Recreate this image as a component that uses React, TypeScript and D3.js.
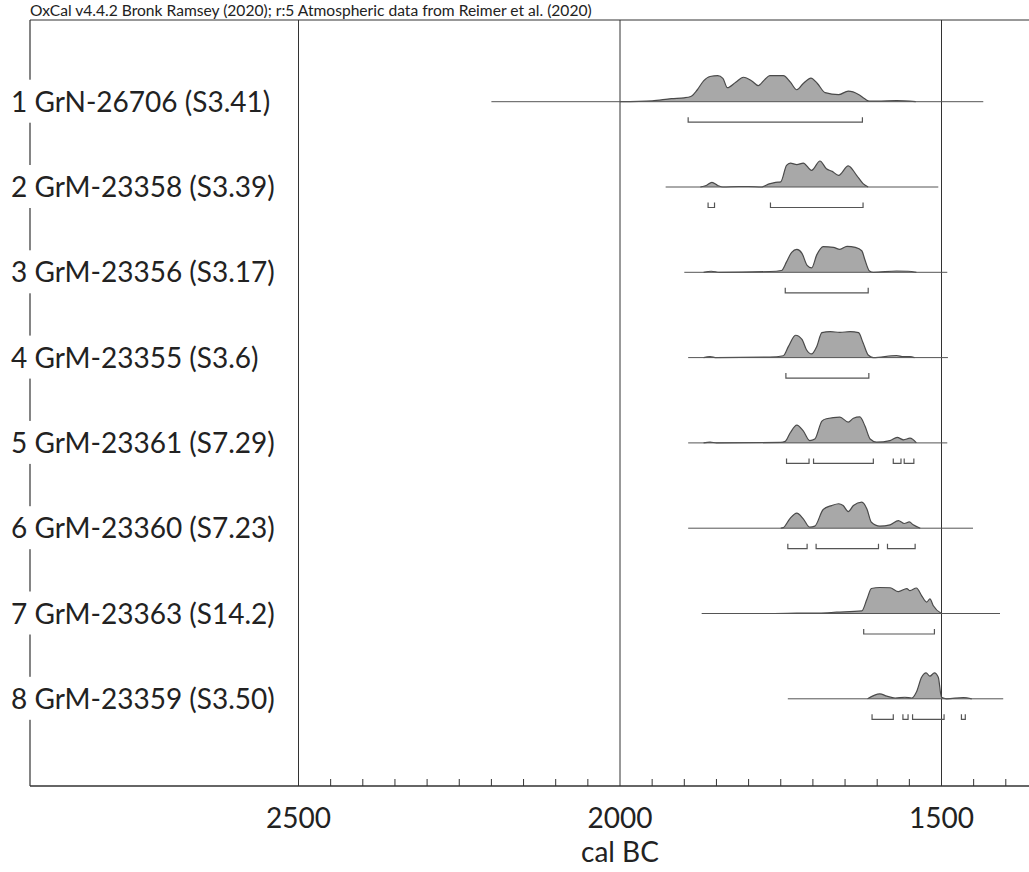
import { useEffect, useRef } from 'react'
import * as d3 from 'd3'

// OxCal multiplot – 8 calibrated dates
const title = 'OxCal v4.4.2 Bronk Ramsey (2020); r:5 Atmospheric data from Reimer et al. (2020)'
const axisTitle = 'cal BC'
const labels = [
  '1 GrN-26706 (S3.41)',
  '2 GrM-23358 (S3.39)',
  '3 GrM-23356 (S3.17)',
  '4 GrM-23355 (S3.6)',
  '5 GrM-23361 (S7.29)',
  '6 GrM-23360 (S7.23)',
  '7 GrM-23363 (S14.2)',
  '8 GrM-23359 (S3.50)',
]
const majorTicks = [2500, 2000, 1500]

// extent of each likelihood (years BC)
const rangeStart = [2200, 1929, 1900, 1894, 1894, 1894, 1873, 1739]
const rangeEnd = [1435, 1505, 1491, 1490, 1491, 1451, 1409, 1404]

// [year BC, relative probability]
const dens1 = [[2000, 0], [1950, 0.03], [1920, 0.12], [1900, 0.15], [1890, 0.2], [1880, 0.45], [1870, 0.8], [1860, 0.97], [1848, 1.0], [1840, 0.9], [1833, 0.54], [1820, 0.75], [1808, 0.94], [1795, 0.8], [1785, 0.62], [1775, 0.85], [1767, 1.0], [1746, 1.0], [1735, 0.75], [1725, 0.46], [1715, 0.7], [1703, 0.91], [1693, 0.7], [1681, 0.35], [1660, 0.27], [1645, 0.41], [1629, 0.28], [1620, 0.12], [1612, 0.02], [1600, 0.02], [1570, 0.04], [1540, 0]]
const dens2 = [[1875, 0], [1866, 0.06], [1857, 0.18], [1848, 0.06], [1840, 0], [1815, 0.02], [1800, 0.02], [1780, 0], [1768, 0.12], [1758, 0.18], [1750, 0.2], [1741, 0.83], [1735, 0.92], [1725, 0.86], [1715, 0.92], [1702, 0.64], [1689, 1.0], [1679, 0.7], [1670, 0.6], [1660, 0.45], [1645, 0.81], [1632, 0.45], [1622, 0.13], [1614, 0]]
const dens3 = [[1870, 0], [1858, 0.04], [1845, 0], [1767, 0.03], [1749, 0.07], [1741, 0.4], [1733, 0.77], [1725, 0.88], [1717, 0.73], [1709, 0.27], [1702, 0.17], [1694, 0.67], [1684, 0.99], [1668, 0.96], [1658, 0.88], [1647, 1.0], [1634, 0.96], [1624, 0.83], [1619, 0.47], [1612, 0.05], [1606, 0], [1570, 0.05], [1552, 0.04], [1539, 0]]
const dens4 = [[1870, 0], [1860, 0.04], [1850, 0], [1767, 0.02], [1746, 0.07], [1738, 0.43], [1727, 0.86], [1717, 0.7], [1710, 0.3], [1702, 0.14], [1694, 0.43], [1686, 0.96], [1673, 1.0], [1658, 0.97], [1642, 1.0], [1629, 0.96], [1622, 0.57], [1614, 0.1], [1606, 0], [1570, 0.08], [1559, 0.04], [1549, 0.04], [1542, 0]]
const dens5 = [[1870, 0], [1860, 0.03], [1850, 0], [1750, 0.02], [1743, 0.06], [1735, 0.4], [1725, 0.68], [1715, 0.46], [1705, 0.09], [1697, 0.15], [1686, 0.84], [1679, 0.93], [1658, 0.99], [1645, 0.8], [1637, 0.95], [1627, 1.0], [1619, 0.65], [1611, 0.15], [1601, 0.03], [1580, 0.09], [1569, 0.21], [1559, 0.12], [1549, 0.18], [1539, 0]]
const dens6 = [[1750, 0], [1746, 0.02], [1736, 0.36], [1725, 0.58], [1715, 0.36], [1705, 0.04], [1697, 0.08], [1684, 0.72], [1671, 0.87], [1660, 0.94], [1653, 0.87], [1645, 0.64], [1637, 0.87], [1624, 1.0], [1616, 0.74], [1609, 0.23], [1596, 0.08], [1580, 0.13], [1567, 0.29], [1558, 0.18], [1550, 0.24], [1544, 0.13], [1533, 0]]
const dens7 = [[1760, 0], [1725, 0.02], [1690, 0.02], [1663, 0.05], [1624, 0.1], [1616, 0.55], [1609, 0.96], [1596, 1.0], [1580, 0.99], [1567, 0.84], [1554, 0.96], [1549, 0.88], [1539, 0.98], [1531, 0.69], [1523, 0.44], [1518, 0.56], [1513, 0.31], [1500, 0]]
const dens8 = [[1615, 0], [1596, 0.19], [1585, 0.1], [1572, 0.03], [1557, 0.06], [1546, 0.03], [1539, 0.26], [1531, 0.83], [1524, 1.0], [1518, 0.87], [1511, 1.0], [1505, 0.83], [1500, 0.06], [1492, 0], [1466, 0.05], [1453, 0]]
const densities = [dens1, dens2, dens3, dens4, dens5, dens6, dens7, dens8]

// 95.4% ranges
const hpd1 = [[1894, 1623]]
const hpd2 = [[1863, 1853], [1766, 1622]]
const hpd3 = [[1743, 1614]]
const hpd4 = [[1742, 1613]]
const hpd5 = [[1741, 1706], [1699, 1606], [1575, 1563], [1558, 1543]]
const hpd6 = [[1739, 1709], [1695, 1598], [1584, 1541]]
const hpd7 = [[1621, 1511]]
const hpd8 = [[1608, 1575], [1560, 1552], [1545, 1496], [1469, 1463]]
const ranges = [hpd1, hpd2, hpd3, hpd4, hpd5, hpd6, hpd7, hpd8]

const FONT = 'Lato, "Open Sans", sans-serif'

const App = () => {
  const svgRef = useRef<SVGSVGElement>(null)

  useEffect(() => {
    document.body.style.margin = '0'
    const width = 1029
    const left = 30
    const top = 20
    const bottom = 786

    const svg = d3.select(svgRef.current)
    svg.selectAll('*').remove()

    const x = d3.scaleLinear().domain([2500, 1500]).range([298.5, 941.5])
    const y = d3.scaleLinear().domain([0, 7]).range([101.7, 698.8])
    const peak = 26

    // title
    svg.append('text')
      .attr('x', left)
      .attr('y', 16)
      .style('font-family', FONT)
      .style('font-size', '15.6px')
      .style('fill', '#222')
      .text(title)

    // frame + gridlines
    const frame = svg.append('g').attr('stroke', '#333').attr('fill', 'none')
    frame.append('line').attr('x1', left).attr('x2', width).attr('y1', top).attr('y2', top).attr('stroke-width', 1)
    frame.append('line').attr('x1', left).attr('x2', left).attr('y1', top).attr('y2', bottom).attr('stroke-width', 1.2)
    frame.append('line').attr('x1', left).attr('x2', width).attr('y1', bottom).attr('y2', bottom).attr('stroke-width', 1.6)
    frame.selectAll('.grid')
      .data(majorTicks)
      .enter()
      .append('line')
      .attr('x1', d => x(d)).attr('x2', d => x(d))
      .attr('y1', top).attr('y2', bottom)
      .attr('stroke-width', 1)

    // minor ticks every 50 years
    const minor = d3.range(2450, 1350, -50).filter(d => d % 500 !== 0)
    frame.selectAll('.minor')
      .data(minor)
      .enter()
      .append('line')
      .attr('x1', d => x(d)).attr('x2', d => x(d))
      .attr('y1', bottom - 7).attr('y2', bottom)
      .attr('stroke-width', 1)

    // tick labels
    svg.selectAll('.tickLabel')
      .data(majorTicks)
      .enter()
      .append('text')
      .attr('x', d => x(d))
      .attr('y', 828)
      .attr('text-anchor', 'middle')
      .style('font-family', FONT)
      .style('font-size', '28px')
      .style('fill', '#222')
      .text(d => d)

    svg.append('text')
      .attr('x', x(2000))
      .attr('y', 862)
      .attr('text-anchor', 'middle')
      .style('font-family', FONT)
      .style('font-size', '28px')
      .style('fill', '#222')
      .text(axisTitle)

    const area = d3.area<number[]>()
      .x(d => x(d[0]))
      .y0(0)
      .y1(d => -d[1] * peak)
      .curve(d3.curveMonotoneX)
    const line = d3.line<number[]>()
      .x(d => x(d[0]))
      .y(d => -d[1] * peak)
      .curve(d3.curveMonotoneX)

    labels.forEach((label, i) => {
      const g = svg.append('g').attr('transform', `translate(0,${y(i)})`)

      // label with white backing over the axis
      g.append('rect')
        .attr('x', 6).attr('y', -22)
        .attr('width', 274).attr('height', 43)
        .attr('fill', 'white')
      g.append('text')
        .attr('x', 11)
        .attr('y', 10)
        .style('font-family', FONT)
        .style('font-size', '28px')
        .style('fill', '#222')
        .text(label)

      // likelihood
      g.append('path')
        .datum(densities[i])
        .attr('d', area)
        .attr('fill', '#a8a8a8')
      g.append('path')
        .datum(densities[i])
        .attr('d', line)
        .attr('fill', 'none')
        .attr('stroke', '#4a4a4a')
        .attr('stroke-width', 1.2)

      // baseline
      g.append('line')
        .attr('x1', x(rangeStart[i])).attr('x2', x(rangeEnd[i]))
        .attr('y1', 0).attr('y2', 0)
        .attr('stroke', '#555')
        .attr('stroke-width', 1)

      // range brackets
      g.selectAll('.hpd')
        .data(ranges[i])
        .enter()
        .append('path')
        .attr('d', d => `M${x(d[0])},15.5V20.5H${x(d[1])}V15.5`)
        .attr('fill', 'none')
        .attr('stroke', '#555')
        .attr('stroke-width', 1.2)
    })
  }, [])

  return (
    <svg
      ref={svgRef}
      width={1029}
      height={872}
      style={{ display: 'block', background: 'white' }}
    />
  )
}

export default App
